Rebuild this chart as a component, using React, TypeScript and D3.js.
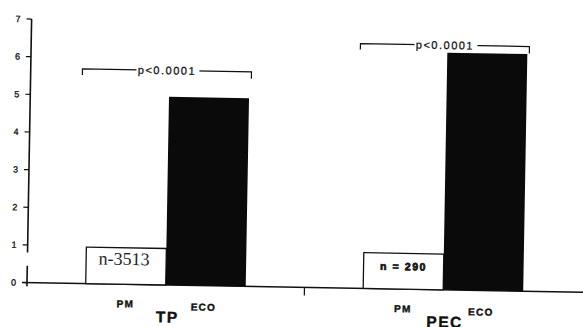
import * as d3 from 'd3';

// Chart values
const groups = ['TP', 'PEC'];
const series = ['PM', 'ECO'];
const pmValues = [0.97, 0.95];
const ecoValues = [5.0, 6.3];
const boxLabels = ['n-3513', 'n = 290'];
const pLabels = ['p<0.0001', 'p<0.0001'];
const bracketLevels = [5.7, 6.5];
const yTicks = [0, 1, 2, 3, 4, 5, 6, 7];
const axisBreak = [0.45, 0.8];

const width = 583;
const height = 327;
const originX = 27;
const tilt = 1; // the scan is slightly rotated

const sans = '"Liberation Sans", Arial, sans-serif';
const serif = '"Liberation Serif", "Times New Roman", serif';

export default function App() {
  const y = d3.scaleLinear().domain([0, 7]).range([282.6, 19]);
  const xGroup = d3.scaleBand<string>().domain(groups).range([originX, 582]).padding(0);
  const xBar = d3
    .scaleBand<string>()
    .domain(series)
    .range([0, xGroup.bandwidth()])
    .paddingInner(0)
    .paddingOuter(0.734);
  const bw = xBar.bandwidth();
  const y0 = y(0);

  return (
    <svg
      width={width}
      height={height}
      style={{ position: 'absolute', left: 0, top: 0, background: '#fff' }}
    >
      <g transform={`rotate(${tilt}, ${originX}, ${y0})`}>
        {/* y axis with a break near the bottom */}
        <line x1={originX} x2={originX} y1={y(7)} y2={y(axisBreak[1])} stroke="#111" strokeWidth={1.6} />
        <line x1={originX} x2={originX} y1={y(axisBreak[0])} y2={y(-0.1)} stroke="#111" strokeWidth={1.6} />
        {yTicks.map((t) => (
          <g key={t}>
            <line x1={originX - 5} x2={originX} y1={y(t)} y2={y(t)} stroke="#111" strokeWidth={1.2} />
            <text
              x={originX - 11}
              y={y(t)}
              dy="0.35em"
              textAnchor="end"
              fontFamily={sans}
              fontSize={9}
              fill="#111"
              stroke="#111"
              strokeWidth={0.3}
            >
              {t}
            </text>
          </g>
        ))}

        {/* x axis */}
        <line x1={originX - 5} x2={width + 20} y1={y0} y2={y0} stroke="#111" strokeWidth={1.5} />
        <line x1={xGroup('PEC')!} x2={xGroup('PEC')!} y1={y0} y2={y0 + 8} stroke="#111" strokeWidth={1.2} />

        {groups.map((g, i) => {
          const gx = xGroup(g)!;
          const pmX = gx + xBar('PM')!;
          const ecoX = gx + xBar('ECO')!;
          const by = y(bracketLevels[i]);
          const bx1 = pmX - 7;
          const bx2 = ecoX + bw + 2;
          const bcx = (bx1 + bx2) / 2;
          const textW = 57;
          return (
            <g key={g}>
              {/* PM: white outlined box */}
              <rect
                x={pmX}
                y={y(pmValues[i])}
                width={bw}
                height={y0 - y(pmValues[i])}
                fill="#fff"
                stroke="#111"
                strokeWidth={1.3}
              />
              {/* ECO: solid black bar */}
              <rect
                x={ecoX}
                y={y(ecoValues[i])}
                width={bw}
                height={y0 - y(ecoValues[i])}
                fill="#0a0a0a"
              />

              {/* sample size inside the PM box */}
              {i === 0 ? (
                <text
                  x={pmX + bw / 2 - 2}
                  y={y0 - 19.4}
                  textAnchor="middle"
                  fontFamily={serif}
                  fontSize={18}
                  fill="#222"
                >
                  {boxLabels[i]}
                </text>
              ) : (
                <text
                  x={pmX + bw / 2}
                  y={y0 - 19}
                  textAnchor="middle"
                  fontFamily={sans}
                  fontWeight="bold"
                  fontSize={10.5}
                  letterSpacing={1.6}
                  fill="#111"
                  stroke="#111"
                  strokeWidth={0.7}
                >
                  {boxLabels[i]}
                </text>
              )}

              {/* significance bracket */}
              <path
                d={`M${bx1},${by + 6}V${by}H${bx2}V${by + 7}`}
                fill="none"
                stroke="#111"
                strokeWidth={1.2}
              />
              <rect x={bcx - textW / 2 - 2} y={by - 6} width={textW + 6} height={12} fill="#fff" />
              <text
                x={bcx}
                y={by}
                dy="0.36em"
                textAnchor="middle"
                fontFamily={sans}
                fontSize={11}
                letterSpacing={1.5}
                fill="#111"
                stroke="#111"
                strokeWidth={0.25}
              >
                {pLabels[i]}
              </text>

              {/* category labels */}
              <text
                x={pmX + bw / 2}
                y={y0 + 23}
                textAnchor="middle"
                fontFamily={sans}
                fontWeight="bold"
                fontSize={10}
                letterSpacing={1.2}
                fill="#111"
                stroke="#111"
                strokeWidth={0.4}
              >
                PM
              </text>
              <text
                x={ecoX + bw / 2 - 2}
                y={y0 + 25}
                textAnchor="middle"
                fontFamily={sans}
                fontWeight="bold"
                fontSize={10}
                letterSpacing={1.2}
                fill="#111"
                stroke="#111"
                strokeWidth={0.4}
              >
                ECO
              </text>
              <text
                x={gx + xGroup.bandwidth() / 2 + 2}
                y={y0 + 37.5}
                textAnchor="middle"
                fontFamily={sans}
                fontWeight="bold"
                fontSize={15.5}
                letterSpacing={1.5}
                fill="#111"
                stroke="#111"
                strokeWidth={0.4}
              >
                {g}
              </text>
            </g>
          );
        })}
      </g>
    </svg>
  );
}
